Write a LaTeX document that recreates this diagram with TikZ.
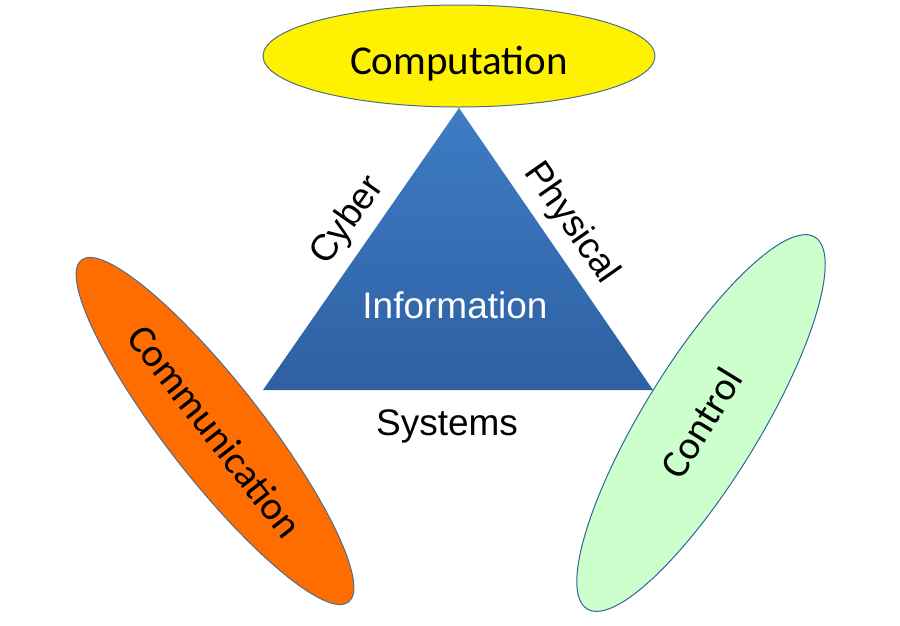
\documentclass[tikz,border=0pt]{standalone}
\usepackage{fontspec}
\newfontfamily\calfont{Carlito}
\newfontfamily\arifont{Liberation Sans}
\usetikzlibrary{shapes.geometric}

\definecolor{edgegray}{RGB}{78,108,140}
\definecolor{commorange}{RGB}{255,108,0}
\definecolor{ctrlgreen}{RGB}{204,255,204}
\definecolor{ctrledge}{RGB}{50,100,160}
\definecolor{tritop}{RGB}{62,124,196}
\definecolor{tribottom}{RGB}{46,96,162}

\tikzset{
  blob/.style={ellipse,draw=edgegray,line width=1pt,inner sep=0pt,
    font=\calfont\fontsize{40}{40}\selectfont},
  side/.style={font=\arifont\fontsize{37}{37}\selectfont,inner sep=0pt},
}

\begin{document}
\begin{tikzpicture}[x=1pt,y=-1pt]
    \useasboundingbox[fill=white] (0,0) rectangle (900,625);

    % corners of the triangle
    \coordinate (top) at (459,108);
    \coordinate (bl)  at (263,390);
    \coordinate (br)  at (653,390);
    \shade[top color=tritop,bottom color=tribottom] (top) -- (bl) -- (br) -- cycle;

    \node[blob,fill=yellow,minimum width=392pt,minimum height=102pt,font=\calfont\fontsize{41}{41}\selectfont] (comp) at (459,56) {\raisebox{-18pt}[0pt][0pt]{Computation}};
    \node[blob,fill=commorange,minimum width=434pt,minimum height=96pt,rotate=-52]  (comm) at (215,431) {Communication};
    \node[blob,draw=ctrledge,fill=ctrlgreen,minimum width=436pt,minimum height=116pt,rotate=58.5] (ctrl) at (701,423) {Control};

    \node[side,white] (info) at (455,305) {Information};
    \node[side,rotate=55]  (cyber) at (348,221) {Cyber};
    \node[side,rotate=-55] (phys)  at (571,223) {Physical};
    \node[side]            (sys)   at (447,426) {Systems};
\end{tikzpicture}
\end{document}
